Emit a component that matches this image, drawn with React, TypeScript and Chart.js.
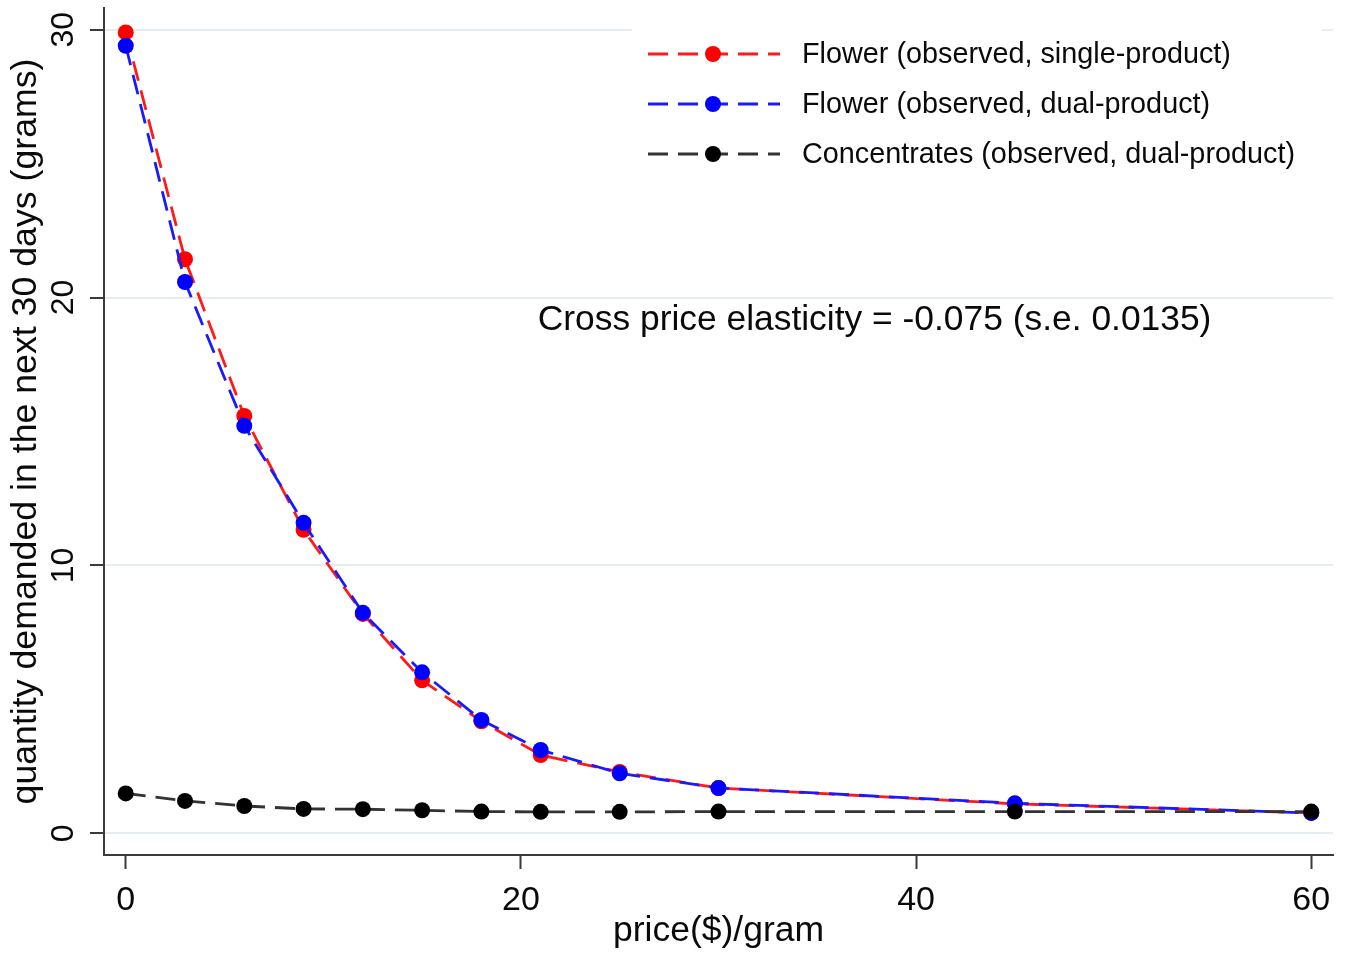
import { useEffect, useRef } from 'react';
import { Chart, registerables } from 'chart.js';

Chart.register(...registerables);

const prices = [0, 3, 6, 9, 12, 15, 18, 21, 25, 30, 45, 60];
const flowerSingle = [29.9, 21.43, 15.58, 11.33, 8.19, 5.71, 4.18, 2.92, 2.29, 1.69, 1.1, 0.76];
const flowerDual = [29.4, 20.58, 15.21, 11.59, 8.23, 6.01, 4.23, 3.11, 2.24, 1.69, 1.12, 0.76];
const concentrates = [1.49, 1.21, 1.02, 0.91, 0.9, 0.86, 0.81, 0.8, 0.8, 0.81, 0.81, 0.81];
const seriesLabels = [
  'Flower (observed, single-product)',
  'Flower (observed, dual-product)',
  'Concentrates (observed, dual-product)',
];
const seriesColors = ['#ff0000', '#0000ff', '#000000'];
const lineColors = ['#ff1a1a', '#1a1aff', '#333333'];
const xTicks = [0, 20, 40, 60];
const yTicks = [0, 10, 20, 30];
const xTitle = 'price($)/gram';
const yTitle = 'quantity demanded in the next 30 days (grams)';
const annotationText = 'Cross price elasticity = -0.075 (s.e. 0.0135)';
const annotationX = 20.85;
const annotationY = 18.8;

const FONT = "'Liberation Sans', Arial, Helvetica, sans-serif";
const AXIS = '#3a3a3a';
const TEXT = '#0a0a0a';

export default function App() {
  const ref = useRef<HTMLCanvasElement | null>(null);

  useEffect(() => {
    document.body.style.margin = '0';
    const canvas = ref.current;
    if (!canvas) return;
    Chart.defaults.font.family = FONT;
    Chart.defaults.color = TEXT;

    const series = [flowerSingle, flowerDual, concentrates];

    const overlay = {
      id: 'overlay',
      afterDraw(chart: any) {
        const ctx = chart.ctx as CanvasRenderingContext2D;
        const xs = chart.scales.x;
        const ys = chart.scales.y;
        ctx.save();
        // legend box
        ctx.fillStyle = '#ffffff';
        ctx.fillRect(632, 14, 690, 170);
        ctx.font = `28.8px ${FONT}`;
        ctx.textBaseline = 'middle';
        ctx.textAlign = 'left';
        seriesLabels.forEach((label, i) => {
          const cy = 54 + i * 50;
          ctx.strokeStyle = lineColors[i];
          ctx.lineWidth = 2.8;
          ctx.setLineDash([20, 10]);
          ctx.beginPath();
          ctx.moveTo(648, cy);
          ctx.lineTo(780, cy);
          ctx.stroke();
          ctx.setLineDash([]);
          ctx.fillStyle = seriesColors[i];
          ctx.beginPath();
          ctx.arc(713, cy, 8, 0, Math.PI * 2);
          ctx.fill();
          ctx.fillStyle = TEXT;
          ctx.fillText(label, 802, cy + 1);
        });
        // annotation
        ctx.font = `35.4px ${FONT}`;
        ctx.textBaseline = 'alphabetic';
        ctx.fillStyle = TEXT;
        ctx.fillText(annotationText, xs.getPixelForValue(annotationX), ys.getPixelForValue(annotationY));
        ctx.restore();
      },
    };

    const chart = new Chart(canvas, {
      type: 'line',
      data: {
        datasets: series.map((vals, i) => ({
          label: seriesLabels[i],
          data: prices.map((p, j) => ({ x: p, y: vals[j] })),
          borderColor: lineColors[i],
          backgroundColor: seriesColors[i],
          pointBackgroundColor: seriesColors[i],
          pointBorderColor: seriesColors[i],
          pointBorderWidth: 0,
          pointRadius: 8,
          borderWidth: 2.8,
          borderDash: [20, 10],
          tension: 0,
          fill: false,
          order: 3 - i,
        })),
      },
      options: {
        responsive: false,
        animation: false,
        events: [],
        layout: { padding: { top: 8, right: 17, left: 0, bottom: 0 } },
        plugins: { legend: { display: false }, tooltip: { enabled: false } },
        scales: {
          x: {
            type: 'linear',
            min: -1.1,
            max: 61.1,
            afterBuildTicks: (s: any) => {
              s.ticks = xTicks.map((v) => ({ value: v }));
            },
            afterFit: (s: any) => {
              s.height = 101;
              s.paddingLeft = 0;
              s.paddingRight = 0;
            },
            grid: {
              display: true,
              drawOnChartArea: false,
              drawTicks: true,
              tickLength: 14,
              tickColor: AXIS,
              tickWidth: 2,
            },
            border: { display: true, color: AXIS, width: 2 },
            ticks: { font: { size: 34 }, color: TEXT, padding: 11, maxRotation: 0, autoSkip: false },
            title: {
              display: true,
              text: xTitle,
              font: { size: 35.5 },
              color: TEXT,
              padding: { top: 0, bottom: 3 },
            },
          },
          y: {
            type: 'linear',
            min: -0.81,
            max: 30.81,
            afterBuildTicks: (s: any) => {
              s.ticks = yTicks.map((v) => ({ value: v }));
            },
            afterFit: (s: any) => {
              s.width = 104;
              s.paddingTop = 0;
              s.paddingBottom = 0;
            },
            grid: {
              color: '#e4edf1',
              lineWidth: 2,
              drawTicks: true,
              tickLength: 14,
              tickColor: AXIS,
              tickWidth: 2,
            },
            border: { display: true, color: AXIS, width: 2 },
            ticks: {
              font: { size: 32 },
              color: TEXT,
              minRotation: 90,
              maxRotation: 90,
              crossAlign: 'center',
              padding: 8.5,
              autoSkip: false,
            },
            title: {
              display: true,
              text: yTitle,
              font: { size: 35.7 },
              color: TEXT,
              padding: { top: 5, bottom: 0 },
            },
          },
        },
      },
      plugins: [overlay],
    } as any);

    return () => chart.destroy();
  }, []);

  return (
    <div style={{ width: 1350, height: 956 }}>
      <canvas ref={ref} width={1350} height={956} style={{ display: 'block' }} />
    </div>
  );
}
